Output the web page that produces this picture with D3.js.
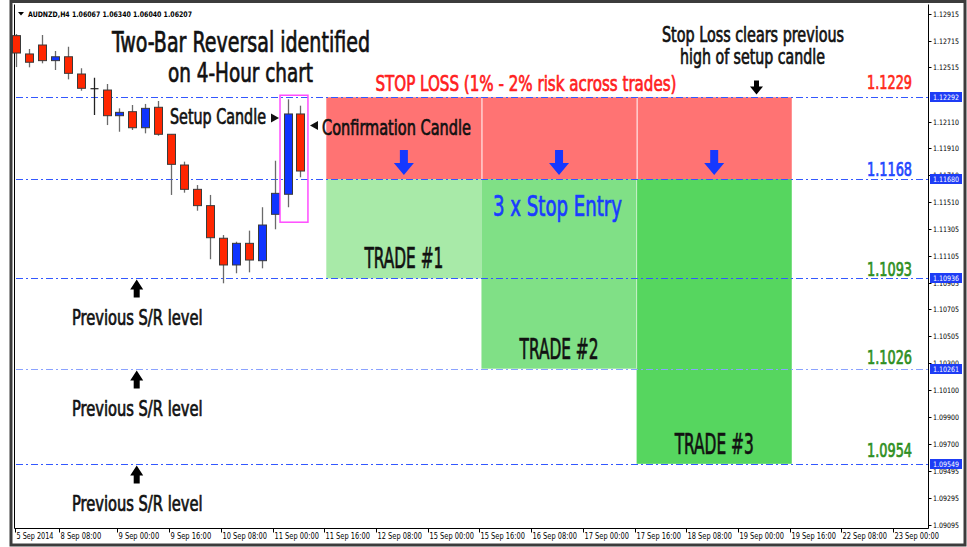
<!DOCTYPE html>
<html lang="en">
  <head>
    <meta charset="UTF-8">
    <title>AUDNZD H4 two-bar reversal</title>
    <style>
body {margin: 0; background: #fff;}
svg {display: block;}
.cond {font-family: 'Liberation Sans Narrow', 'DejaVu Sans Condensed', 'DejaVu Sans', sans-serif;}
.small {font-family: 'DejaVu Sans', Tahoma, sans-serif;}
</style>
  </head>
  <body>
<div id="my_dataviz"></div>
<script src="https://d3js.org/d3.v7.min.js"></script>
<script>

// H4 candles, one per bar from 5 Sep 2014: [open, high, low, close]
var candles = [
  [1.12753, 1.12765, 1.12518, 1.12623],
  [1.12616, 1.12653, 1.12516, 1.12554],
  [1.12683, 1.12758, 1.12546, 1.12566],
  [1.12566, 1.12638, 1.12496, 1.12595],
  [1.12595, 1.12670, 1.12426, 1.12471],
  [1.12466, 1.12509, 1.12341, 1.12359],
  [1.12356, 1.12438, 1.12159, 1.12356],
  [1.12346, 1.12391, 1.12084, 1.12154],
  [1.12154, 1.12209, 1.12034, 1.12179],
  [1.12184, 1.12234, 1.12047, 1.12064],
  [1.12064, 1.12242, 1.12022, 1.12209],
  [1.12217, 1.12264, 1.12004, 1.12015],
  [1.12015, 1.12015, 1.11561, 1.11790],
  [1.11785, 1.11810, 1.11578, 1.11603],
  [1.11603, 1.11635, 1.11443, 1.11481],
  [1.11481, 1.11561, 1.11080, 1.11241],
  [1.11237, 1.11261, 1.10900, 1.11037],
  [1.11037, 1.11211, 1.10975, 1.11199],
  [1.11199, 1.11294, 1.10982, 1.11074],
  [1.11069, 1.11469, 1.11012, 1.11336],
  [1.11416, 1.11817, 1.11304, 1.11573],
  [1.11566, 1.12277, 1.11469, 1.12167],
  [1.12167, 1.12229, 1.11693, 1.11740]
];

// price axis labels (the one hidden under the stop loss marker is left out)
var yTicks = [1.12915, 1.12715, 1.12515, 1.12110, 1.11910, 1.11710, 1.11510,
  1.11305, 1.11105, 1.10905, 1.10705, 1.10505, 1.10300, 1.10100, 1.09900,
  1.09700, 1.09495, 1.09295, 1.09095];

// time axis labels [bar index, text]
var xTicks = [
  [0, "5 Sep 2014"], [3.5, "8 Sep 08:00"], [8, "9 Sep 00:00"], [12, "9 Sep 16:00"],
  [16, "10 Sep 08:00"], [20, "11 Sep 00:00"], [24, "11 Sep 16:00"], [28, "12 Sep 08:00"],
  [32, "15 Sep 00:00"], [36, "15 Sep 16:00"], [40, "16 Sep 08:00"], [44, "17 Sep 00:00"],
  [48, "17 Sep 16:00"], [52, "18 Sep 08:00"], [56, "19 Sep 00:00"], [60, "19 Sep 16:00"],
  [64, "22 Sep 08:00"], [68, "23 Sep 00:00"]
];

// horizontal levels: stop loss, entry, three S/R targets
var levels = [1.12292, 1.11680, 1.10936, 1.10261, 1.09549];
var levelText = ["1.1229", "1.1168", "1.1093", "1.1026", "1.0954"];

// three trades: [start bar, end bar, target level]
var trades = [[24, 36, 1.10936], [36, 48, 1.10261], [48, 60, 1.09549]];
var tradeNames = ["TRADE #1", "TRADE #2", "TRADE #3"];

var W = 967, H = 547;
var svg = d3.select("#my_dataviz").append("svg")
  .attr("width", W).attr("height", H);

var x = d3.scaleLinear().domain([0, 68]).range([16, 895.2]);
var y = d3.scaleLinear().domain([1.12915, 1.09095]).range([14, 524.5]);

var plotL = 14.5, plotR = 928.5, plotT = 4.5, plotB = 528.5;

// window frame and plot border
svg.append("rect").attr("x", 11).attr("y", 1.5).attr("width", 954).attr("height", 543.5)
  .attr("fill", "none").attr("stroke", "#3c3c3c").attr("stroke-width", 3);
svg.append("line").attr("x1", plotL).attr("x2", plotL).attr("y1", plotT).attr("y2", plotB)
  .attr("stroke", "#000");
svg.append("line").attr("x1", plotR).attr("x2", plotR).attr("y1", plotT).attr("y2", plotB)
  .attr("stroke", "#000");
svg.append("line").attr("x1", plotL).attr("x2", plotR).attr("y1", plotB).attr("y2", plotB)
  .attr("stroke", "#000");

// stop loss zone (red) and trade zones (green)
var greens = ["#a8eaa8", "#80e086", "#56d65f"];
trades.forEach(function(t, i) {
  svg.append("rect")
    .attr("x", x(t[0]) + (i ? 1 : 0)).attr("width", x(t[1]) - x(t[0]) - (i ? 1 : 0))
    .attr("y", y(levels[0])).attr("height", y(levels[1]) - y(levels[0]))
    .attr("fill", "#ff7373");
  svg.append("rect")
    .attr("x", x(t[0])).attr("width", x(t[1]) - x(t[0]))
    .attr("y", y(levels[1])).attr("height", y(t[2]) - y(levels[1]))
    .attr("fill", greens[i]);
});
// faint divider between trade 2 and 3
svg.append("line").attr("x1", x(48)).attr("x2", x(48))
  .attr("y1", y(levels[1])).attr("y2", y(levels[3]))
  .attr("stroke", "#c8f0c8").attr("stroke-width", 1);

// dash-dot levels
levels.forEach(function(v, i) {
  svg.append("line")
    .attr("x1", plotL + 1).attr("x2", plotR)
    .attr("y1", Math.round(y(v)) + 0.5).attr("y2", Math.round(y(v)) + 0.5)
    .attr("stroke", i == 3 ? "#8aa2ff" : "#3358ff")
    .attr("stroke-width", 1)
    .attr("shape-rendering", "crispEdges")
    .attr("stroke-dasharray", "7,3,2,3");
});

// candles
candles.forEach(function(c, i) {
  var cx = Math.round(x(i)) + 0.5;
  var up = c[3] > c[0], flat = c[3] == c[0];
  svg.append("line").attr("x1", cx).attr("x2", cx)
    .attr("y1", y(c[1])).attr("y2", y(c[2]))
    .attr("stroke", flat ? "#222" : "#6a6a6a").attr("stroke-width", 1.3);
  if (flat) {
    svg.append("line").attr("x1", cx - 4).attr("x2", cx + 4)
      .attr("y1", y(c[0])).attr("y2", y(c[0]))
      .attr("stroke", "#222").attr("stroke-width", 1.2);
  } else {
    var top = y(Math.max(c[0], c[3])), bot = y(Math.min(c[0], c[3]));
    svg.append("rect").attr("x", cx - 4).attr("width", 8)
      .attr("y", top).attr("height", Math.max(bot - top, 2))
      .attr("fill", up ? "#0f34ff" : "#ff2600")
      .attr("stroke", "#3a3a3a").attr("stroke-width", 1);
  }
});

// box round setup + confirmation candles
svg.append("rect").attr("x", x(21) - 7.5).attr("y", y(1.12307))
  .attr("width", x(22) - x(21) + 15).attr("height", y(1.11357) - y(1.12307))
  .attr("fill", "none").attr("stroke", "#ff4cff").attr("stroke-width", 1.5);

// price axis
yTicks.forEach(function(v) {
  var yy = Math.round(y(v)) + 0.5;
  svg.append("line").attr("x1", plotR).attr("x2", plotR + 3).attr("y1", yy).attr("y2", yy)
    .attr("stroke", "#000");
  svg.append("text").attr("class", "small").attr("x", 933).attr("y", yy + 2.5)
    .attr("font-size", 7.4).attr("textLength", 26).attr("lengthAdjust", "spacingAndGlyphs")
    .attr("fill", "#000").text(v.toFixed(5));
});
levels.forEach(function(v) {
  var yy = Math.round(y(v));
  svg.append("rect").attr("x", 930).attr("y", yy - 5).attr("width", 32).attr("height", 10)
    .attr("fill", "#1e3cf5");
  svg.append("text").attr("class", "small").attr("x", 933).attr("y", yy + 3)
    .attr("font-size", 7.4).attr("textLength", 26).attr("lengthAdjust", "spacingAndGlyphs")
    .attr("fill", "#fff").text(v.toFixed(5));
});

// time axis
xTicks.forEach(function(t) {
  var xx = t[0] == 0 ? plotL + 1 : Math.round(x(t[0])) - 1.5;
  svg.append("line").attr("x1", xx).attr("x2", xx).attr("y1", plotB).attr("y2", plotB + 4)
    .attr("stroke", "#000");
  svg.append("text").attr("class", "small").attr("x", xx + 1).attr("y", 539)
    .attr("font-size", 8).attr("textLength", t[1].length * 3.7)
    .attr("lengthAdjust", "spacingAndGlyphs").attr("fill", "#000").text(t[1]);
});

// header line
svg.append("path").attr("d", "M18,12 L24,12 L21,15.5 Z").attr("fill", "#000");
svg.append("text").attr("class", "small").attr("x", 28).attr("y", 17)
  .attr("font-size", 7.6).attr("font-weight", "bold").attr("textLength", 164)
  .attr("lengthAdjust", "spacingAndGlyphs").attr("fill", "#000")
  .text("AUDNZD,H4  1.06067 1.06340 1.06040 1.06207");

// condensed annotation text, fitted to the measured width
function label(txt, left, base, size, width, color) {
  svg.append("text").attr("class", "cond")
    .attr("x", left).attr("y", base)
    .attr("font-size", size)
    .attr("textLength", width).attr("lengthAdjust", "spacingAndGlyphs")
    .attr("fill", color).attr("stroke", color).attr("stroke-width", 0.7)
    .text(txt);
}

// arrow with its tip at (cx, tip); positive len points down, negative up
function arrow(cx, tip, len, headLen, headW, shaftW, color) {
  var p = d3.path();
  var s = len > 0 ? 1 : -1, L = Math.abs(len);
  var base = tip - s * L, neck = tip - s * headLen;
  p.moveTo(cx - shaftW / 2, base);
  p.lineTo(cx + shaftW / 2, base);
  p.lineTo(cx + shaftW / 2, neck);
  p.lineTo(cx + headW / 2, neck);
  p.lineTo(cx, tip);
  p.lineTo(cx - headW / 2, neck);
  p.lineTo(cx - shaftW / 2, neck);
  p.closePath();
  svg.append("path").attr("d", p.toString()).attr("fill", color);
}

label("Two-Bar Reversal identified", 112, 52, 28, 258, "#111");
label("on 4-Hour chart", 168, 82, 27, 145, "#111");
label("Setup Candle", 170, 123.5, 21.5, 96, "#111");
svg.append("path").attr("d", "M271,113.5 L279,118 L271,122.5 Z").attr("fill", "#111");
svg.append("path").attr("d", "M318,121 L310,125.5 L318,130 Z").attr("fill", "#111");
label("Confirmation Candle", 322, 134.5, 22, 149, "#111");

label("STOP LOSS (1% - 2% risk across trades)", 375.5, 91, 22, 301, "#ff2020");
label("Stop Loss clears previous", 662, 41.5, 21, 182, "#111");
label("high of setup candle", 680, 63.5, 21, 145, "#111");
arrow(756.5, 94.5, 14, 8, 13, 5, "#000");

// blue arrows and trade names
trades.forEach(function(t, i) {
  var cx = (x(t[0]) + x(t[1])) / 2;
  arrow(cx, 175, 25, 12, 20, 8, "#1538ff");
  label(tradeNames[i], cx - 39.5, Math.round(y(t[2])) - 10, 28, 79, "#111");
});
label("3 x Stop Entry", 493, 215.5, 28, 129, "#1a3cff");

// right side level values
var levelColors = ["#ff2a1a", "#2347ff", "#2f8f1f", "#2f8f1f", "#2f8f1f"];
levels.forEach(function(v, i) {
  var off = [8, 3, 2, 5.5, 7][i];
  label(levelText[i], 867, Math.round(y(v)) - off, 19, 45, levelColors[i]);
});

// previous S/R markers
levels.slice(2).forEach(function(v) {
  var ly = Math.round(y(v));
  arrow(136.7, ly + 1.5, -18, 10, 13, 6, "#000");
  label("Previous S/R level", 72, ly + 47, 21, 130.5, "#111");
});

</script>
  </body>
</html>
